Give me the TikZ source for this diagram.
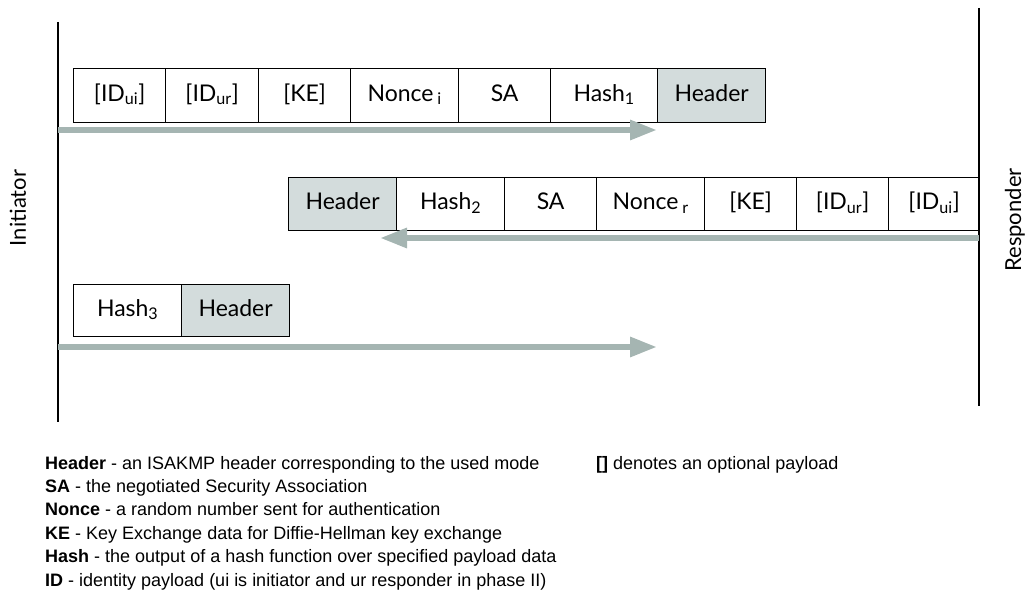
\documentclass[tikz,border=0pt]{standalone}
\usepackage{fontspec}
\usetikzlibrary{arrows.meta}
\setmainfont{Lato}
\newfontfamily\legendfont{Liberation Sans}
\definecolor{hdrfill}{HTML}{D3DCDC}
\definecolor{flowgray}{HTML}{A5B5B2}
\begin{document}
\begin{tikzpicture}[x=1pt,y=-1pt,
  field/.style={draw=black,line width=1.3pt,inner sep=0pt,anchor=north west,
    font=\fontsize{23}{23}\selectfont,text height=16pt,text depth=5pt},
  hdr/.style={field,fill=hdrfill},
  party/.style={draw=black,line width=1.1pt},
  flow/.style={draw=flowgray,line width=6pt,-{Triangle[length=27pt,width=19pt]}},
  side/.style={rotate=90,font=\fontsize{22}{22}\selectfont},
  legend/.style={anchor=base west,inner sep=0pt,font=\legendfont\fontsize{18}{18}\selectfont}]
\useasboundingbox (0,0) rectangle (1036,596);

% lifelines of the two parties
\coordinate (iTop) at (58,22);
\coordinate (iBot) at (58,422);
\coordinate (rTop) at (979,8);
\coordinate (rBot) at (979,406);
\draw[party] (iTop) -- (iBot);
\draw[party] (rTop) -- (rBot);
\node[side] (initiator) at (18,208) {Initiator};
\node[side] (responder) at (1015,220) {Responder};

% message 1: initiator -> responder
\node[field,minimum width=92pt,minimum height=54pt] (m1a) at (73,68) {[ID\textsubscript{ui}]};
\node[field,minimum width=93pt,minimum height=54pt] (m1b) at (165,68) {[ID\textsubscript{ur}]};
\node[field,minimum width=92pt,minimum height=54pt] (m1c) at (258,68) {[KE]};
\node[field,minimum width=108pt,minimum height=54pt] (m1d) at (350,68) {Nonce\,\textsubscript{i}};
\node[field,minimum width=92pt,minimum height=54pt] (m1e) at (458,68) {SA};
\node[field,minimum width=107pt,minimum height=54pt] (m1f) at (550,68) {Hash\textsubscript{1}};
\node[hdr,minimum width=108pt,minimum height=54pt] (m1g) at (657,68) {Header};
\coordinate (f1s) at (58,130);
\coordinate (f1e) at (657,130);
\draw[flow] (f1s) -- (f1e);

% message 2: responder -> initiator
\node[hdr,minimum width=108pt,minimum height=53pt] (m2a) at (288,177) {Header};
\node[field,minimum width=108pt,minimum height=53pt] (m2b) at (396,177) {Hash\textsubscript{2}};
\node[field,minimum width=92pt,minimum height=53pt] (m2c) at (504,177) {SA};
\node[field,minimum width=108pt,minimum height=53pt] (m2d) at (596,177) {Nonce\,\textsubscript{r}};
\node[field,minimum width=92pt,minimum height=53pt] (m2e) at (704,177) {[KE]};
\node[field,minimum width=92pt,minimum height=53pt] (m2f) at (796,177) {[ID\textsubscript{ur}]};
\node[field,minimum width=91pt,minimum height=53pt] (m2g) at (888,177) {[ID\textsubscript{ui}]};
\coordinate (f2s) at (979,238);
\coordinate (f2e) at (380,238);
\draw[flow] (f2s) -- (f2e);

% message 3: initiator -> responder
\node[field,minimum width=108pt,minimum height=52pt] (m3a) at (73,284) {Hash\textsubscript{3}};
\node[hdr,minimum width=108pt,minimum height=52pt] (m3b) at (181,284) {Header};
\coordinate (f3s) at (58,347);
\coordinate (f3e) at (657,347);
\draw[flow] (f3s) -- (f3e);

% legend
\node[legend] (l1) at (45,469) {\textbf{Header} - an ISAKMP header corresponding to the used mode};
\node[legend] (l2) at (45,492) {\textbf{SA} - the negotiated Security Association};
\node[legend] (l3) at (45,515) {\textbf{Nonce} - a random number sent for authentication};
\node[legend] (l4) at (45,539) {\textbf{KE} - Key Exchange data for Diffie-Hellman key exchange};
\node[legend] (l5) at (45,562) {\textbf{Hash} - the output of a hash function over specified payload data};
\node[legend] (l6) at (45,586) {\textbf{ID} - identity payload (ui is initiator and ur responder in phase II)};
\node[legend] (l7) at (596,469) {\textbf{[]} denotes an optional payload};
\end{tikzpicture}
\end{document}
